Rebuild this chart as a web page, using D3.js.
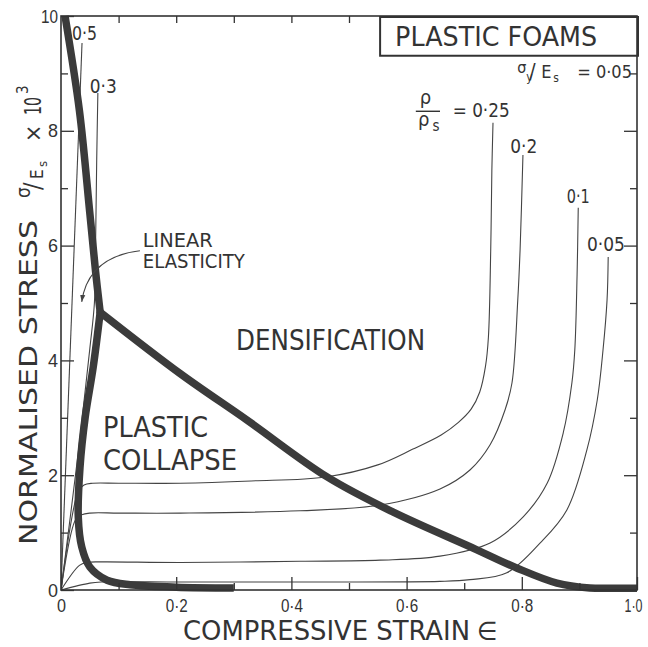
<!DOCTYPE html>
<html>
<head>
<meta charset="utf-8">
<script src="https://cdn.jsdelivr.net/npm/d3@7"></script>
<style>
  body { margin: 0; background: #fff; }
  svg { display: block; font-family: "DejaVu Sans Condensed", "DejaVu Sans", sans-serif; }
  text { fill: #333; }
</style>
</head>
<body>
<div id="main"></div>
<script>
// compressive strain (x) against normalised stress sigma/Es x 10^3 (y)
const xMajorTicks = [0, 0.2, 0.4, 0.6, 0.8, 1.0];
const xMinorTicks = [0.1, 0.3, 0.5, 0.7, 0.9];
const xTopTicks = [0.1, 0.2, 0.3, 0.4, 0.5];
const yMajorTicks = [0, 2, 4, 6, 8, 10];
const yMinorTicks = [1, 3, 5, 7, 9];

// relative density curves, [strain, stress]
const rho050 = [[0, 0], [0.0365, 9.53]];
const rho030 = [[0, 0], [0.03, 2.4], [0.05, 4.2], [0.058, 5.0], [0.060, 6.0], [0.062, 7.5], [0.064, 8.66]];
const rho025 = [[0, 0], [0.030, 1.72], [0.040, 1.83], [0.055, 1.86], [0.10, 1.86], [0.207, 1.86], [0.33, 1.9],
  [0.46, 1.97], [0.55, 2.18], [0.61, 2.45], [0.66, 2.70], [0.69, 2.92], [0.712, 3.15], [0.727, 3.45],
  [0.737, 3.9], [0.742, 4.4], [0.746, 5.9], [0.748, 7.3], [0.75, 8.14]];
const rho020 = [[0, 0], [0.025, 1.22], [0.036, 1.31], [0.05, 1.34], [0.10, 1.34], [0.207, 1.34], [0.415, 1.38],
  [0.554, 1.48], [0.658, 1.76], [0.71, 2.09], [0.745, 2.53], [0.771, 3.14], [0.783, 3.61], [0.793, 5.05],
  [0.797, 5.92], [0.802, 7.58]];
const rho010 = [[0, 0], [0.032, 0.43], [0.045, 0.48], [0.07, 0.49], [0.207, 0.48], [0.415, 0.5], [0.554, 0.52],
  [0.658, 0.59], [0.745, 0.82], [0.802, 1.27], [0.844, 1.86], [0.872, 2.74], [0.887, 3.61], [0.892, 4.18],
  [0.896, 5.5], [0.898, 6.66]];
const rho005 = [[0, 0], [0.05, 0.12], [0.07, 0.14], [0.207, 0.14], [0.415, 0.14], [0.658, 0.15], [0.71, 0.18],
  [0.774, 0.30], [0.832, 0.82], [0.878, 1.39], [0.913, 2.44], [0.931, 3.31], [0.941, 4.18], [0.948, 5.05],
  [0.95, 5.8]];

// regime boundaries (thick lines)
const bucklingLine = [[0.007, 10], [0.032, 8.35], [0.05, 6.57], [0.06, 5.55], [0.068, 4.84]];
const collapseLine = [[0.068, 4.84], [0.056, 3.89], [0.042, 3.01], [0.033, 2.14], [0.030, 1.27], [0.036, 0.75],
  [0.050, 0.40], [0.080, 0.17], [0.120, 0.09], [0.20, 0.05], [0.30, 0.035]];
const densLine = [[0.068, 4.84], [0.207, 3.77], [0.323, 2.96], [0.462, 1.97], [0.576, 1.36], [0.722, 0.70],
  [0.792, 0.38], [0.861, 0.12], [0.918, 0.035], [0.96, 0.03], [1.0, 0.03]];

const densityLabels = ["0·5", "0·3", "0·25", "0·2", "0·1", "0·05"];

class FoamChart {
  constructor(config) {
    this.config = config;
    this.svg = null;
    this.xScale = null;
    this.yScale = null;
    this.createSvg();
    this.createScales();
  }

  createSvg() {
    this.svg = d3.select(this.config.div)
      .append("svg")
      .attr("width", this.config.width)
      .attr("height", this.config.height);
    this.svg.append("rect").attr("width", this.config.width).attr("height", this.config.height).attr("fill", "#fff");
  }

  createScales() {
    const c = this.config;
    this.xScale = d3.scaleLinear().domain([0, 1]).range([c.left, c.right]);
    this.yScale = d3.scaleLinear().domain([0, 10]).range([c.bottom, c.top]);
  }

  styleAxis(g) {
    g.select(".domain").remove();
    g.selectAll(".tick line").attr("stroke", "#333").attr("stroke-width", 1.3);
    g.selectAll("text").attr("fill", "#333");
  }

  createAxis() {
    const x = this.xScale, y = this.yScale, c = this.config;
    const ax = this.svg.append("g");

    ax.append("g").attr("transform", `translate(0,${c.bottom})`)
      .call(d3.axisBottom(x).tickValues(xMajorTicks).tickSizeInner(-13).tickSizeOuter(0).tickPadding(9)
        .tickFormat(d => d === 0 ? "0" : d3.format(".1f")(d).replace(".", "·")))
      .call(g => this.styleAxis(g))
      .call(g => g.selectAll("text").attr("font-size", 18).attr("font-family", null)
        .attr("x", d => d === 1 ? -4 : 0)
        .attr("textLength", d => d === 0 ? 9 : (d === 1 ? 18 : 22)).attr("lengthAdjust", "spacingAndGlyphs"));
    ax.append("g").attr("transform", `translate(0,${c.bottom})`)
      .call(d3.axisBottom(x).tickValues(xMinorTicks).tickSizeInner(-7).tickSizeOuter(0).tickFormat(""))
      .call(g => this.styleAxis(g));

    ax.append("g").attr("transform", `translate(0,${c.top})`)
      .call(d3.axisTop(x).tickValues(xTopTicks).tickSizeInner(-7).tickSizeOuter(0).tickFormat(""))
      .call(g => this.styleAxis(g));

    ax.append("g").attr("transform", `translate(${c.left},0)`)
      .call(d3.axisLeft(y).tickValues(yMajorTicks).tickSizeInner(-13).tickSizeOuter(0).tickPadding(3)
        .tickFormat(d => String(d)))
      .call(g => this.styleAxis(g))
      .call(g => g.selectAll("text").attr("font-size", 19).attr("font-family", null)
        .attr("textLength", d => d === 10 ? 17 : 10).attr("lengthAdjust", "spacingAndGlyphs"));
    ax.append("g").attr("transform", `translate(${c.left},0)`)
      .call(d3.axisLeft(y).tickValues(yMinorTicks).tickSizeInner(-7).tickSizeOuter(0).tickFormat(""))
      .call(g => this.styleAxis(g));

    ax.append("g").attr("transform", `translate(${c.right},0)`)
      .call(d3.axisRight(y).tickValues(yMajorTicks.slice(1, 5)).tickSizeInner(-13).tickSizeOuter(0).tickFormat(""))
      .call(g => this.styleAxis(g));
    ax.append("g").attr("transform", `translate(${c.right},0)`)
      .call(d3.axisRight(y).tickValues(yMinorTicks).tickSizeInner(-7).tickSizeOuter(0).tickFormat(""))
      .call(g => this.styleAxis(g));

    // frame
    ax.append("rect")
      .attr("x", x(0)).attr("y", y(10))
      .attr("width", x(1) - x(0)).attr("height", y(0) - y(10))
      .attr("fill", "none").attr("stroke", "#333").attr("stroke-width", 1.6);

    // x title
    this.svg.append("text").attr("x", 183).attr("y", 640).attr("font-size", 27)
      .attr("textLength", 287).attr("lengthAdjust", "spacingAndGlyphs").text("COMPRESSIVE STRAIN");
    this.svg.append("text").attr("x", 477).attr("y", 640).attr("font-size", 26).text("\u2208");

    // y title, rotated
    const yt = this.svg.append("g").attr("transform", "rotate(-90)");
    yt.append("text").attr("x", -545).attr("y", 37).attr("font-size", 24)
      .attr("textLength", 325).attr("lengthAdjust", "spacingAndGlyphs").text("NORMALISED STRESS");
    yt.append("text").attr("x", -198).attr("y", 30).attr("font-size", 19).text("σ");
    yt.append("text").attr("x", -190).attr("y", 41).attr("font-size", 25).text("/");
    yt.append("text").attr("x", -179).attr("y", 43).attr("font-size", 17).text("E");
    yt.append("text").attr("x", -167).attr("y", 47).attr("font-size", 13).text("s");
    yt.append("text").attr("x", -142).attr("y", 41).attr("font-size", 23).text("×");
    yt.append("text").attr("x", -115).attr("y", 41).attr("font-size", 23)
      .attr("textLength", 18).attr("lengthAdjust", "spacingAndGlyphs").text("10");
    yt.append("text").attr("x", -94).attr("y", 28).attr("font-size", 15).text("3");
  }

  render() {
    const x = this.xScale, y = this.yScale, c = this.config;

    this.svg.append("clipPath").attr("id", "plotclip")
      .append("rect").attr("x", c.left).attr("y", c.top - 1)
      .attr("width", c.right - c.left).attr("height", c.bottom - c.top + 6);

    const plot = this.svg.append("g").attr("clip-path", "url(#plotclip)");

    const smooth = d3.line().x(d => x(d[0])).y(d => y(d[1])).curve(d3.curveCatmullRom.alpha(0.5));
    const straight = d3.line().x(d => x(d[0])).y(d => y(d[1]));

    plot.append("path").datum(rho050).attr("d", straight)
      .attr("fill", "none").attr("stroke", "#444").attr("stroke-width", 1.1);

    plot.selectAll(".rho")
      .data([rho030, rho025, rho020, rho010, rho005])
      .join("path")
      .attr("class", "rho")
      .attr("d", smooth)
      .attr("fill", "none")
      .attr("stroke", "#444")
      .attr("stroke-width", 1.1);

    plot.selectAll(".bound")
      .data([bucklingLine, collapseLine, densLine])
      .join("path")
      .attr("class", "bound")
      .attr("d", smooth)
      .attr("fill", "none")
      .attr("stroke", "#3b3b3b")
      .attr("stroke-width", 7.5)
      .attr("stroke-linejoin", "round");

    plot.append("circle").attr("cx", x(densLine[0][0])).attr("cy", y(densLine[0][1]))
      .attr("r", 3.75).attr("fill", "#3b3b3b");

    // density labels
    const lab = this.svg.append("g").attr("font-size", 20);
    const labPos = [[0.019, 9.58, 25], [0.05, 8.66, 27], null, [0.78, 7.61, 27], [0.878, 6.74, 23], [0.913, 5.9, 38]];
    densityLabels.forEach((t, i) => {
      if (!labPos[i]) return;
      lab.append("text").attr("x", x(labPos[i][0])).attr("y", y(labPos[i][1]))
        .attr("textLength", labPos[i][2]).attr("lengthAdjust", "spacingAndGlyphs").text(t);
    });
    // rho / rho_s = 0.25
    lab.append("text").attr("x", x(0.623)).attr("y", y(8.47)).attr("font-size", 20).text("ρ");
    lab.append("line").attr("x1", x(0.616)).attr("x2", x(0.658)).attr("y1", y(8.34)).attr("y2", y(8.34))
      .attr("stroke", "#333").attr("stroke-width", 1.4);
    lab.append("text").attr("x", x(0.62)).attr("y", y(8.09)).attr("font-size", 20).text("ρ");
    lab.append("text").attr("x", x(0.645)).attr("y", y(8.0)).attr("font-size", 15).text("s");
    lab.append("text").attr("x", x(0.68)).attr("y", y(8.24))
      .attr("textLength", 57).attr("lengthAdjust", "spacingAndGlyphs").text("= " + densityLabels[2]);

    // regime labels
    const reg = this.svg.append("g");
    reg.append("text").attr("x", x(0.304)).attr("y", y(4.18)).attr("font-size", 28)
      .attr("textLength", 189).attr("lengthAdjust", "spacingAndGlyphs").text("DENSIFICATION");
    reg.append("text").attr("x", x(0.073)).attr("y", y(2.67)).attr("font-size", 28)
      .attr("textLength", 105).attr("lengthAdjust", "spacingAndGlyphs").text("PLASTIC");
    reg.append("text").attr("x", x(0.073)).attr("y", y(2.09)).attr("font-size", 28)
      .attr("textLength", 134).attr("lengthAdjust", "spacingAndGlyphs").text("COLLAPSE");
    reg.append("text").attr("x", x(0.142)).attr("y", y(5.98)).attr("font-size", 19)
      .attr("textLength", 70).attr("lengthAdjust", "spacingAndGlyphs").text("LINEAR");
    reg.append("text").attr("x", x(0.142)).attr("y", y(5.61)).attr("font-size", 19)
      .attr("textLength", 102).attr("lengthAdjust", "spacingAndGlyphs").text("ELASTICITY");

    this.svg.append("defs").append("marker")
      .attr("id", "arrow").attr("viewBox", "0 -4 8 8").attr("refX", 8).attr("refY", 0)
      .attr("markerWidth", 7).attr("markerHeight", 7).attr("markerUnits", "userSpaceOnUse")
      .attr("orient", "auto")
      .append("path").attr("d", "M0,-3L8,0L0,3Z").attr("fill", "#444");
    reg.append("path")
      .attr("d", `M${x(0.137)},${y(5.91)} Q${x(0.047)},${y(5.80)} ${x(0.036)},${y(5.02)}`)
      .attr("fill", "none").attr("stroke", "#444").attr("stroke-width", 1.1)
      .attr("marker-end", "url(#arrow)");

    // title box
    reg.append("rect").attr("x", x(0.554)).attr("y", y(10) + 1)
      .attr("width", x(1) - x(0.554) + 1).attr("height", y(9.29) - y(9.965))
      .attr("fill", "#fff").attr("stroke", "#333").attr("stroke-width", 2);
    reg.append("text").attr("x", x(0.580)).attr("y", y(9.47)).attr("font-size", 27)
      .attr("textLength", 202).attr("lengthAdjust", "spacingAndGlyphs").text("PLASTIC FOAMS");

    // sigma_y / E_s = 0.05
    const bx = x(0.792), by = y(8.92);
    const ratio = reg.append("text").attr("y", by).attr("font-size", 18);
    ratio.append("tspan").attr("x", bx).attr("y", by - 5).attr("font-size", 16).text("σ");
    ratio.append("tspan").attr("x", bx + 9).attr("y", by + 3).attr("font-size", 12).text("y");
    ratio.append("tspan").attr("x", bx + 12).attr("y", by + 1).attr("font-size", 21).text("/");
    ratio.append("tspan").attr("x", bx + 24).attr("y", by).text("E");
    ratio.append("tspan").attr("x", bx + 36).attr("y", by + 4).attr("font-size", 12).text("s");
    ratio.append("tspan").attr("x", bx + 60).attr("y", by).text("= 0·05");
  }
}

function main() {
  const c = { div: "#main", width: 648, height: 647, left: 61, right: 637, top: 16, bottom: 590 };
  const app = new FoamChart(c);
  app.render();
  app.createAxis();
}

main();
</script>
</body>
</html>
